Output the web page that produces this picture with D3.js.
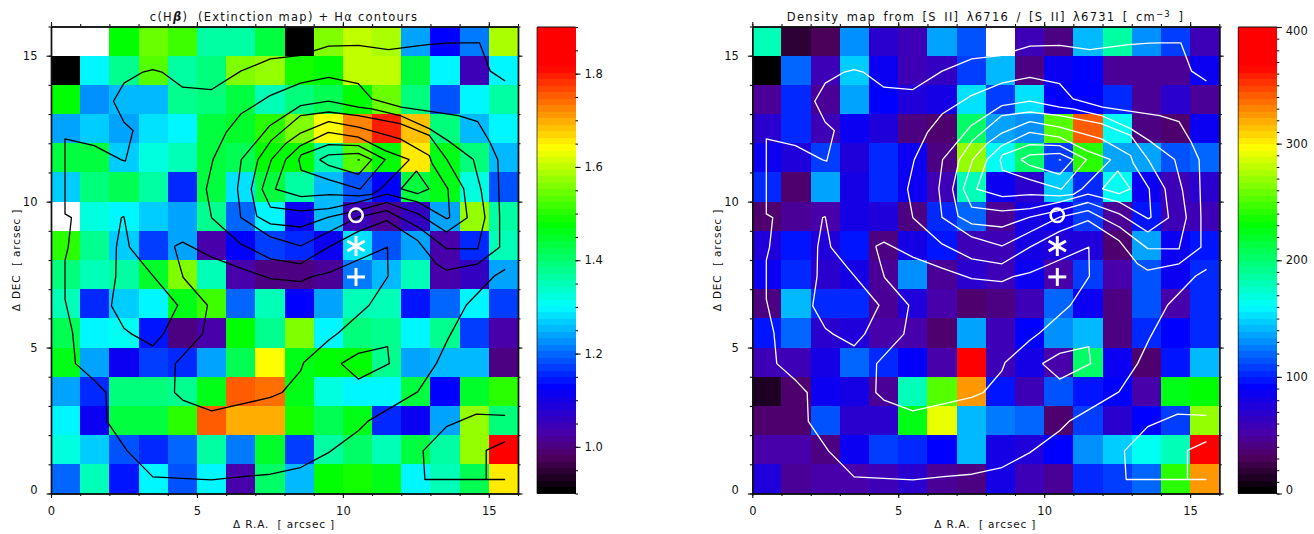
<!DOCTYPE html>
<html><head><meta charset="utf-8">
<script src="https://cdn.jsdelivr.net/npm/d3@7"></script>
<style>
html,body{margin:0;padding:0;background:#fff}
svg{display:block}
text{font-family:"DejaVu Sans",sans-serif;fill:#111}
</style></head><body>
<svg id="chart" width="1314" height="534"></svg>
<script>
// Extinction map c(Hbeta); rows listed from top (DEC 15-16) to bottom (DEC 0-1); null = no data
const extinctionRows = [
[null,null,1.48,1.55,1.52,1.36,1.37,1.43,0.90,1.56,1.60,1.59,1.235,1.125,1.215,1.59],
[0.90,1.30,1.38,1.53,1.37,1.40,1.56,1.57,1.49,1.47,1.60,1.60,1.43,1.30,1.05,1.29],
[1.47,1.23,1.26,1.25,1.38,1.39,1.44,1.35,1.39,1.42,1.47,1.55,1.40,1.185,1.30,1.36],
[1.245,1.265,1.235,1.285,1.295,1.43,1.45,1.50,1.56,1.64,1.72,1.80,1.69,1.40,1.255,1.30],
[1.44,1.44,1.275,1.325,1.35,1.44,1.42,1.48,1.47,1.36,1.53,1.48,1.66,1.46,1.40,1.255],
[1.275,1.40,1.42,1.36,1.155,1.44,1.285,1.44,1.36,1.25,1.19,1.13,1.43,1.46,1.33,1.185],
[null,1.325,1.295,1.265,1.235,1.375,1.20,1.30,1.12,1.255,1.05,1.02,1.055,1.235,1.57,1.36],
[1.50,1.385,1.27,1.175,1.235,1.035,1.125,1.165,1.155,1.12,1.285,1.19,1.235,1.035,1.155,1.35],
[1.40,1.345,1.365,1.455,1.56,1.355,1.035,1.00,1.00,1.02,1.215,1.255,1.345,1.035,1.055,1.245],
[1.345,1.155,1.275,1.295,1.46,1.52,1.205,1.345,1.125,1.235,1.345,1.35,1.145,1.205,1.30,1.165],
[1.42,1.30,1.31,1.145,1.005,1.03,1.48,1.375,1.56,1.30,1.40,1.385,1.30,1.375,1.165,1.035],
[1.46,1.245,1.12,1.175,1.155,1.235,1.42,1.64,1.463,1.47,1.48,1.375,1.235,1.255,1.255,1.00],
[1.235,1.155,1.40,1.40,1.375,1.46,1.76,1.74,1.465,1.325,1.30,1.30,1.43,1.135,1.45,1.50],
[1.30,1.12,1.43,1.44,1.50,1.76,1.70,1.70,1.49,1.42,1.46,1.155,1.12,1.24,1.57,1.40],
[1.32,1.265,1.185,1.155,1.205,1.365,1.215,1.45,1.165,1.365,1.41,1.35,1.43,1.365,1.57,1.83],
[1.205,1.345,1.145,1.295,1.185,1.30,1.035,1.41,1.255,1.47,1.49,1.46,1.30,1.35,1.42,1.66]
];
// Density map, cm^-3
const densityRows = [
[182,20,28,130,70,60,134,113,null,60,40,142,186,130,109,60],
[0,122,60,146,87,60,62,109,142,43,87,90,45,45,48,85],
[48,101,45,138,94,73,80,154,109,154,94,92,101,45,70,45],
[70,101,60,87,77,40,38,202,138,130,255,344,162,43,36,87],
[87,77,109,73,101,87,40,271,162,202,109,239,138,134,113,122],
[101,38,134,80,101,87,60,178,87,68,146,101,162,87,60,70],
[38,45,55,80,73,40,105,122,45,80,87,109,45,98,60,60],
[73,97,73,97,40,80,97,60,60,80,73,75,38,134,87,97],
[87,105,72,80,48,130,45,72,60,87,55,109,55,113,87,101],
[40,142,105,101,48,75,55,38,43,60,122,87,43,113,55,101],
[97,122,72,77,55,55,38,136,58,94,130,142,40,101,94,101],
[60,60,80,122,101,94,55,377,58,80,55,202,87,36,97,140],
[14,38,87,80,45,178,251,324,97,60,113,97,90,55,227,232],
[38,36,113,72,72,227,292,140,126,122,38,109,72,94,109,267],
[55,55,40,87,109,105,94,140,80,73,94,130,146,162,178,377],
[75,45,55,55,58,72,45,43,78,58,48,105,109,122,239,324]
];
// Halpha contours: [RA, DEC] vertices in arcsec
const contourA = [[15.56,14.13],[15.05,14.47],[14.68,15.44],[13.95,15.44],[13.6,15.43],[12.9,15.38],[11.56,15.21],[10.53,15.35],[9.51,15.33],[8.94,15.15],[8.49,15.0],[7.52,14.89],[6.5,14.47],[5.5,13.84],[4.51,13.92],[3.8,14.44],[3.49,14.52],[3.15,14.44],[2.5,14.06],[2.14,13.44],[2.5,12.72],[2.81,12.44],[2.55,11.39],[2.41,11.43],[1.48,11.92],[.48,12.15],[.48,9.58],[.7,9.45],[.59,8.44],[.48,7.99],[.48,6.66],[.74,5.51],[.84,4.45],[1.5,3.86],[1.88,3.46],[1.92,2.47],[2.61,1.46],[3.49,.57],[5.5,.47],[6.56,.58],[7.52,.66],[8.55,.89],[9.51,1.4],[10.53,2.15],[10.875,2.49],[11.56,2.89],[12.56,3.48],[13.2,4.45],[13.6,5.29],[14.23,6.46],[15.19,7.45],[15.56,7.68]];
const contourB1 = [[15.56,2.68],[14.57,2.72],[13.55,2.29],[12.75,1.46],[12.81,.48],[15.56,.48]];
const contourB2 = [[15.56,1.78],[14.91,1.48],[14.91,.48]];
const contourC = [[9.94,4.45],[10.53,4.8],[11.53,5.03],[11.59,4.45],[10.53,3.92],[9.94,4.45]];
const contourD = [[4.23,8.47],[4.51,8.61],[5.5,8.1],[6.5,7.72],[7.52,7.36],[8.55,7.26],[8.94,7.43],[9.51,7.57],[9.97,7.76],[11.53,8.44],[11.55,7.45],[10.9,6.45],[9.83,5.49],[9.51,5.25],[8.66,4.49],[8.55,4.2],[7.92,3.46],[7.52,3.29],[5.5,2.83],[4.51,3.2],[4.23,3.46],[4.26,4.45],[5.19,5.46],[5.36,6.45],[4.53,7.4],[4.43,7.74],[4.23,8.47]];
const contourE = [[2.5,9.49],[2.41,9.45],[2.24,8.44],[2.22,7.45],[2.07,6.43],[2.5,5.66],[2.77,5.46],[3.49,5.06],[3.85,5.46],[4.34,6.45],[3.26,7.74],[2.69,8.44],[2.5,9.49]];
const contourF = [[9.51,14.26],[10.53,14.04],[10.99,13.52],[12.0,13.24],[12.98,13.09],[13.96,12.95],[14.62,12.74],[15.03,12.05],[15.31,11.43],[15.37,9.47],[15.37,8.44],[14.62,7.87],[13.55,7.65],[13.2,7.87],[12.56,8.67],[11.5,9.35],[10.53,8.98],[9.51,8.44],[8.55,7.87],[7.52,8.04],[6.5,8.55],[5.5,9.45],[5.32,10.43],[5.55,11.44],[6.0,12.37],[6.5,13.0],[7.5,13.63],[8.55,14.06],[9.51,14.26]];
const contourG = [[8.55,13.29],[9.51,13.44],[10.53,13.24],[10.99,13.18],[11.96,12.95],[12.96,12.5],[13.6,12.09],[14.47,11.44],[14.74,10.38],[14.87,9.46],[14.62,8.38],[13.55,8.39],[12.58,9.13],[11.5,9.69],[10.53,9.47],[9.51,8.96],[8.55,8.48],[7.52,8.79],[6.5,9.46],[6.39,10.44],[6.52,11.44],[7.49,12.6],[8.55,13.29]];
const contourH = [[13.55,8.96],[14.26,9.45],[14.14,10.44],[13.57,11.43],[12.96,12.27],[11.96,12.67],[10.53,12.95],[9.51,13.07],[8.55,12.95],[7.54,12.09],[7.09,11.44],[6.86,10.43],[7.05,9.5],[7.52,9.24],[8.55,9.13],[9.51,9.47],[10.53,9.7],[11.5,9.97],[12.58,9.58],[13.55,8.96]];
const contourI = [[13.57,9.41],[13.66,9.47],[13.6,10.44],[13.06,11.3],[12.96,11.58],[11.96,12.15],[10.53,12.55],[9.51,12.74],[8.55,12.35],[8.03,11.98],[7.55,11.44],[7.23,10.43],[7.52,9.81],[8.55,9.68],[9.51,9.76],[10.53,9.98],[11.5,10.26],[12.58,9.98],[13.57,9.41]];
const contourJ = [[12.28,11.44],[11.45,11.75],[10.53,12.21],[9.5,12.37],[8.55,11.92],[8.04,11.44],[7.69,10.43],[8.57,10.17],[9.54,10.24],[10.53,10.2],[11.0,10.25],[11.3,10.44],[12.28,11.44]];
const contourK = [[8.49,11.44],[8.57,11.6],[9.51,11.95],[10.53,11.92],[11.45,11.44],[10.59,10.43],[9.51,10.75],[8.57,11.08],[8.49,11.44]];
const contourL = [[9.2,11.44],[9.51,11.6],[10.53,11.65],[10.99,11.44],[10.53,10.93],[9.51,11.24],[9.2,11.44]];
const contourM = [[10.5,11.43],[10.58,11.43]];
const contourN = [[12.52,11.05],[12.95,10.44],[12.56,10.27],[12.0,10.44],[12.52,11.05]];
const contours = [contourA,contourB1,contourB2,contourC,contourD,contourE,contourF,contourG,contourH,contourI,contourJ,contourK,contourL,contourM,contourN];

// White position markers
const markerCircle = [10.45,9.53];
const markerStar = [10.45,8.48];
const markerPlus = [10.45,7.42];

const axisTicksMajor = [0,5,10,15];
const axisTicksMinor = d3.range(0,17);
const extinctionDomain = [0.9,1.9];
const densityDomain = [0,400];
const extinctionMajor = [1.0,1.2,1.4,1.6,1.8];
const extinctionMinor = d3.range(0,21).map(i=>0.9+i*0.05);
const densityMajor = [0,100,200,300,400];
const densityMinor = d3.range(0,41).map(i=>i*10);

// colour table
const tableStops = [0,.075,.125,.226,.40,.579,.746,.922,1];
const tableColors = ["#000000","#500060","#4800a8","#0000ff","#00ffff","#00ff00","#ffff00","#ff0000","#ff0000"];
const table = d3.scaleLinear().domain(tableStops).range(tableColors).interpolate(d3.interpolateRgb).clamp(true);
const tableLevels = 72;
const tint = t => table(Math.min(tableLevels-1,Math.floor(t*tableLevels))/(tableLevels-1));

const svg = d3.select("#chart");
const axisColor = "#111";

function styleAxis(g){
  g.select(".domain").attr("stroke",axisColor).attr("stroke-width",1.4);
  g.selectAll("line").attr("stroke",axisColor).attr("stroke-width",1.1);
  g.selectAll("text").attr("font-size",11.5).attr("fill","#111").attr("stroke","none");
}
function panel(opt){
  const x = d3.scaleLinear().domain([0,16]).range([opt.left,opt.left+467]);
  const y = d3.scaleLinear().domain([0,16]).range([493.5,26.5]);
  const color = d3.scaleLinear().domain(opt.domain).range([0,1]);
  const g = svg.append("g");
  const w = x(1)-x(0), h = y(0)-y(1);
  opt.rows.forEach((row,ri)=>{
    const dec = 15-ri;
    g.append("g").attr("shape-rendering","crispEdges").selectAll("rect").data(row.map((v,i)=>({v,i}))).join("rect")
      .attr("x",d=>x(d.i)).attr("y",y(dec+1)).attr("width",w+.3).attr("height",h+.3)
      .attr("fill",d=>d.v===null?"#ffffff":tint(color(d.v)));
  });
  const line = d3.line().x(d=>x(d[0])).y(d=>y(d[1]));
  g.append("g").selectAll("path").data(contours).join("path")
    .attr("d",line).attr("fill","none").attr("stroke",opt.contour).attr("stroke-width",1.3).attr("stroke-linejoin","round");
  // markers
  const m = g.append("g").attr("fill","none").attr("stroke","#fff").attr("stroke-width",3);
  m.append("circle").attr("cx",x(markerCircle[0])).attr("cy",y(markerCircle[1])).attr("r",6.7).attr("stroke-width",2.6);
  const sx=x(markerStar[0]), sy=y(markerStar[1]);
  [90,30,150].forEach(a=>{
    const r=a*Math.PI/180, dx=10*Math.cos(r), dy=10*Math.sin(r);
    m.append("line").attr("x1",sx-dx).attr("x2",sx+dx).attr("y1",sy-dy).attr("y2",sy+dy);
  });
  const px=x(markerPlus[0]), py=y(markerPlus[1]);
  m.append("line").attr("x1",px-9).attr("x2",px+9).attr("y1",py).attr("y2",py);
  m.append("line").attr("x1",px).attr("x2",px).attr("y1",py-9).attr("y2",py+9);

  // frame axes: minor ticks then major ticks with labels
  const fmt = d3.format("d");
  const mk = (gen,scale,tr,vals,len,labelled) => {
    const a = gen(scale).tickValues(vals).tickSizeInner(len).tickSizeOuter(0).tickPadding(9)
      .tickFormat(labelled?fmt:()=>"");
    return svg.append("g").attr("transform",tr).call(a).call(styleAxis);
  };
  mk(d3.axisBottom,x,`translate(0,${y(0)})`,axisTicksMinor,2.5,false);
  mk(d3.axisBottom,x,`translate(0,${y(0)})`,axisTicksMajor,4.5,true);
  mk(d3.axisTop,x,`translate(0,${y(16)})`,axisTicksMinor,2.5,false);
  mk(d3.axisTop,x,`translate(0,${y(16)})`,axisTicksMajor,4.5,false);
  mk(d3.axisLeft,y,`translate(${x(0)},0)`,axisTicksMinor,2.5,false);
  const yMajor = mk(d3.axisLeft,y,`translate(${x(0)},0)`,axisTicksMajor,4.5,true);
  // the "0" on the DEC axis sits a little above its tick
  yMajor.selectAll("text").filter(d=>d===0).attr("dy","0.02em");
  mk(d3.axisRight,y,`translate(${x(16)},0)`,axisTicksMinor,2.5,false);
  mk(d3.axisRight,y,`translate(${x(16)},0)`,axisTicksMajor,4.5,false);

  // axis titles
  svg.append("text").attr("x",opt.left+233).attr("y",528).attr("text-anchor","middle")
    .attr("font-size",10.5).attr("letter-spacing",.85).attr("xml:space","preserve").text("\u0394 R.A.  [ arcsec ]");
  svg.append("text").attr("transform",`translate(${opt.left-31},260) rotate(-90)`).attr("text-anchor","middle")
    .attr("font-size",10.5).attr("letter-spacing",.85).attr("xml:space","preserve").text("\u0394 DEC  [ arcsec ]");
  const t = svg.append("text").attr("x",opt.titleX).attr("y",21).attr("text-anchor","middle")
    .attr("font-size",11.5).attr("letter-spacing",1.25).attr("word-spacing",opt.titleWord).attr("xml:space","preserve");
  opt.title(t);

  // colour bar
  const barX = opt.left+486, barW = 38.5;
  const cy = d3.scaleLinear().domain(opt.domain).range([493.5,27]);
  const bar = svg.append("g").attr("shape-rendering","crispEdges");
  const levels = d3.range(tableLevels);
  bar.selectAll("rect").data(levels).join("rect")
    .attr("x",barX).attr("width",barW)
    .attr("y",l=>493.5-(l+1)/tableLevels*466.5).attr("height",466.5/tableLevels+.4)
    .attr("fill",l=>tint((l+.5)/tableLevels));
  const edge = svg.append("g");
  edge.append("line").attr("x1",barX).attr("x2",barX).attr("y1",27).attr("y2",493.5).attr("stroke","#000").attr("stroke-opacity",.45).attr("stroke-width",1.5);
  edge.append("line").attr("x1",barX).attr("x2",barX+barW).attr("y1",27).attr("y2",27).attr("stroke","#111").attr("stroke-width",1.2);
  edge.append("line").attr("x1",barX).attr("x2",barX+barW).attr("y1",493.5).attr("y2",493.5).attr("stroke","#111").attr("stroke-width",1.2);
  const barAxis = (vals,len,labelled)=>{
    const a = d3.axisRight(cy).tickValues(vals).tickSizeInner(len).tickSizeOuter(0).tickPadding(4)
      .tickFormat(labelled?opt.barFormat:()=>"");
    const gg = svg.append("g").attr("transform",`translate(${barX+barW},0)`).call(a).call(styleAxis);
    gg.select(".domain").attr("stroke","none");
    if(labelled) gg.selectAll("text").attr("font-size",11.5).attr("dy",d=>{
      if(d===opt.domain[0]) return "-0.02em";
      if(d===opt.domain[1]) return "0.62em";
      return "0.32em";
    });
  };
  barAxis(opt.barMinor,2.5,false);
  barAxis(opt.barMajor,5,true);
}

panel({
  left:51,rows:extinctionRows,domain:extinctionDomain,contour:"#000",titleX:284,titleWord:0,
  barMajor:extinctionMajor,barMinor:extinctionMinor,barFormat:d3.format(".1f"),
  title:t=>{
    t.append("tspan").text("c(H");
    t.append("tspan").attr("font-weight","bold").attr("font-style","italic").text("\u03b2");
    t.append("tspan").text(")  (Extinction map) + H\u03b1 contours");
  }
});
panel({
  left:752.3,rows:densityRows,domain:densityDomain,contour:"#fff",titleX:985.5,titleWord:2.5,
  barMajor:densityMajor,barMinor:densityMinor,barFormat:d3.format("d"),
  title:t=>{
    t.append("tspan").text("Density map from [S II] \u03bb6716 / [S II] \u03bb6731 [ cm");
    t.append("tspan").attr("dy",-4).attr("font-size",8.5).text("\u22123");
    t.append("tspan").attr("dy",4).text(" ]");
  }
});
</script>
</body></html>
